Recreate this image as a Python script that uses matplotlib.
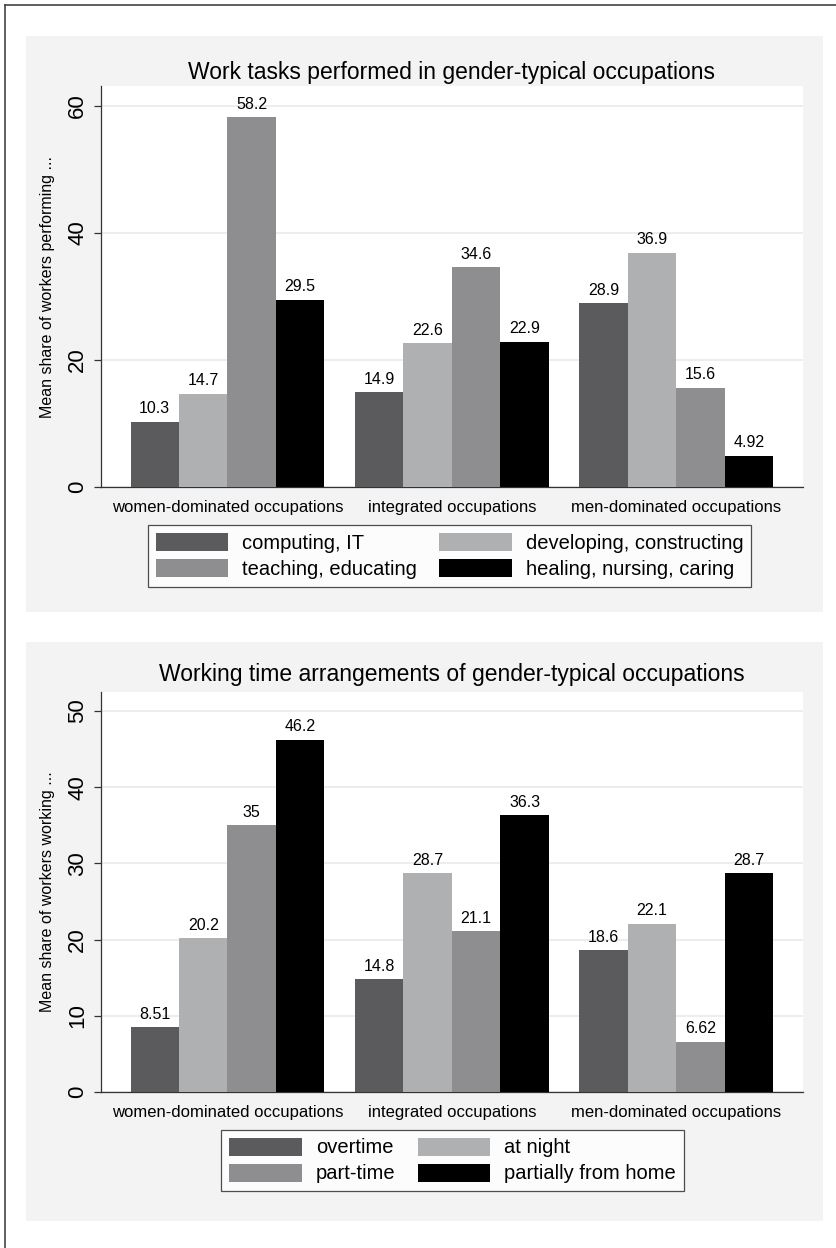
import matplotlib
matplotlib.use('Agg')
import matplotlib.pyplot as plt
from matplotlib.patches import Rectangle
from matplotlib.lines import Line2D
import numpy as np

plt.rcParams['font.family'] = ['Liberation Sans', 'DejaVu Sans']

groups = ['women-dominated occupations', 'integrated occupations', 'men-dominated occupations']

# panel 1: work tasks
tasks_labels = ['computing, IT', 'developing, constructing', 'teaching, educating', 'healing, nursing, caring']
computing = [10.3, 14.9, 28.9]
developing = [14.7, 22.6, 36.9]
teaching = [58.2, 34.6, 15.6]
healing = [29.5, 22.9, 4.92]

# panel 2: working time
time_labels = ['overtime', 'at night', 'part-time', 'partially from home']
overtime = [8.51, 14.8, 18.6]
at_night = [20.2, 28.7, 22.1]
part_time = [35, 21.1, 6.62]
from_home = [46.2, 36.3, 28.7]

colors = ['#5b5b5d', '#aeb0b2', '#8e8e90', '#000000']

W, H = 837, 1248
fig = plt.figure(figsize=(W / 100, H / 100), dpi=100)
fig.patch.set_facecolor('white')

# outer frame (left and top edges visible)
fig.add_artist(Line2D([5 / W, 5 / W], [0, 1 - 5 / H], color='#444444', lw=1.2))
fig.add_artist(Line2D([5 / W, 1], [1 - 5 / H, 1 - 5 / H], color='#444444', lw=1.2))

# panel backgrounds
fig.add_artist(Rectangle((26 / W, 1 - 612 / H), 797 / W, 576 / H,
                         facecolor='#f3f3f3', edgecolor='none', zorder=0))
fig.add_artist(Rectangle((26 / W, 1 - 1221 / H), 797 / W, 579 / H,
                         facecolor='#f3f3f3', edgecolor='none', zorder=0))


def draw_panel(rect, series, labels, ylim, yticks, ylabel, title, title_y, leg_center):
    ax = fig.add_axes(rect)
    ax.set_facecolor('white')
    x = np.arange(len(groups))
    w = 0.216
    for i, vals in enumerate(series):
        pos = x + (i - 1.5) * w
        bars = ax.bar(pos, vals, width=w, color=colors[i], label=labels[i], zorder=3)
        for b, v in zip(bars, vals):
            ax.annotate(f'{v:.3g}', (b.get_x() + b.get_width() / 2, v),
                        xytext=(0, 4), textcoords='offset points',
                        ha='center', va='bottom', fontsize=11.5, zorder=4)
    ax.set_xlim(-0.565, 2.565)
    ax.set_ylim(*ylim)
    ax.set_yticks(yticks)
    ax.set_yticklabels([str(t) for t in yticks], rotation=90, va='center', fontsize=16)
    ax.grid(axis='y', color='#eaeaea', lw=1.2, zorder=0)
    ax.set_xticks(x)
    ax.set_xticklabels(groups, fontsize=12)
    ax.tick_params(axis='x', length=0, pad=9)
    ax.tick_params(axis='y', length=5, width=0.9, color='#333333', pad=4)
    for s in ['top', 'right']:
        ax.spines[s].set_visible(False)
    for s in ['left', 'bottom']:
        ax.spines[s].set_color('#333333')
        ax.spines[s].set_linewidth(0.9)
    ax.set_ylabel(ylabel, fontsize=11.5)
    ax.yaxis.set_label_coords(-0.065, 0.5)
    fig.text(rect[0] + rect[2] / 2, title_y, title, ha='center', va='center', fontsize=16.5)
    handles, names = ax.get_legend_handles_labels()
    order = [0, 2, 1, 3]  # row-wise fill
    leg = fig.legend([handles[k] for k in order], [names[k] for k in order], loc='center',
                     bbox_to_anchor=leg_center, ncol=2, fontsize=14.5,
                     frameon=True, fancybox=False, edgecolor='#222222',
                     handlelength=3.6, handleheight=1.0, handletextpad=0.7,
                     columnspacing=1.1, labelspacing=0.3, borderpad=0.4,
                     borderaxespad=0)
    leg.get_frame().set_linewidth(0.9)
    return ax


draw_panel([100.7 / W, 1 - 487 / H, 702.3 / W, 401 / H],
           [computing, developing, teaching, healing], tasks_labels,
           (0, 63.15), [0, 20, 40, 60], 'Mean share of workers performing ...',
           'Work tasks performed in gender-typical occupations', 1 - 72 / H,
           (449.5 / W, 1 - 556 / H))

draw_panel([100.7 / W, 1 - 1092 / H, 702.3 / W, 400.3 / H],
           [overtime, at_night, part_time, from_home], time_labels,
           (0, 52.53), [0, 10, 20, 30, 40, 50], 'Mean share of workers working ...',
           'Working time arrangements of gender-typical occupations', 1 - 675 / H,
           (452.5 / W, 1 - 1160.5 / H))

fig.savefig('out.png', dpi=100)
